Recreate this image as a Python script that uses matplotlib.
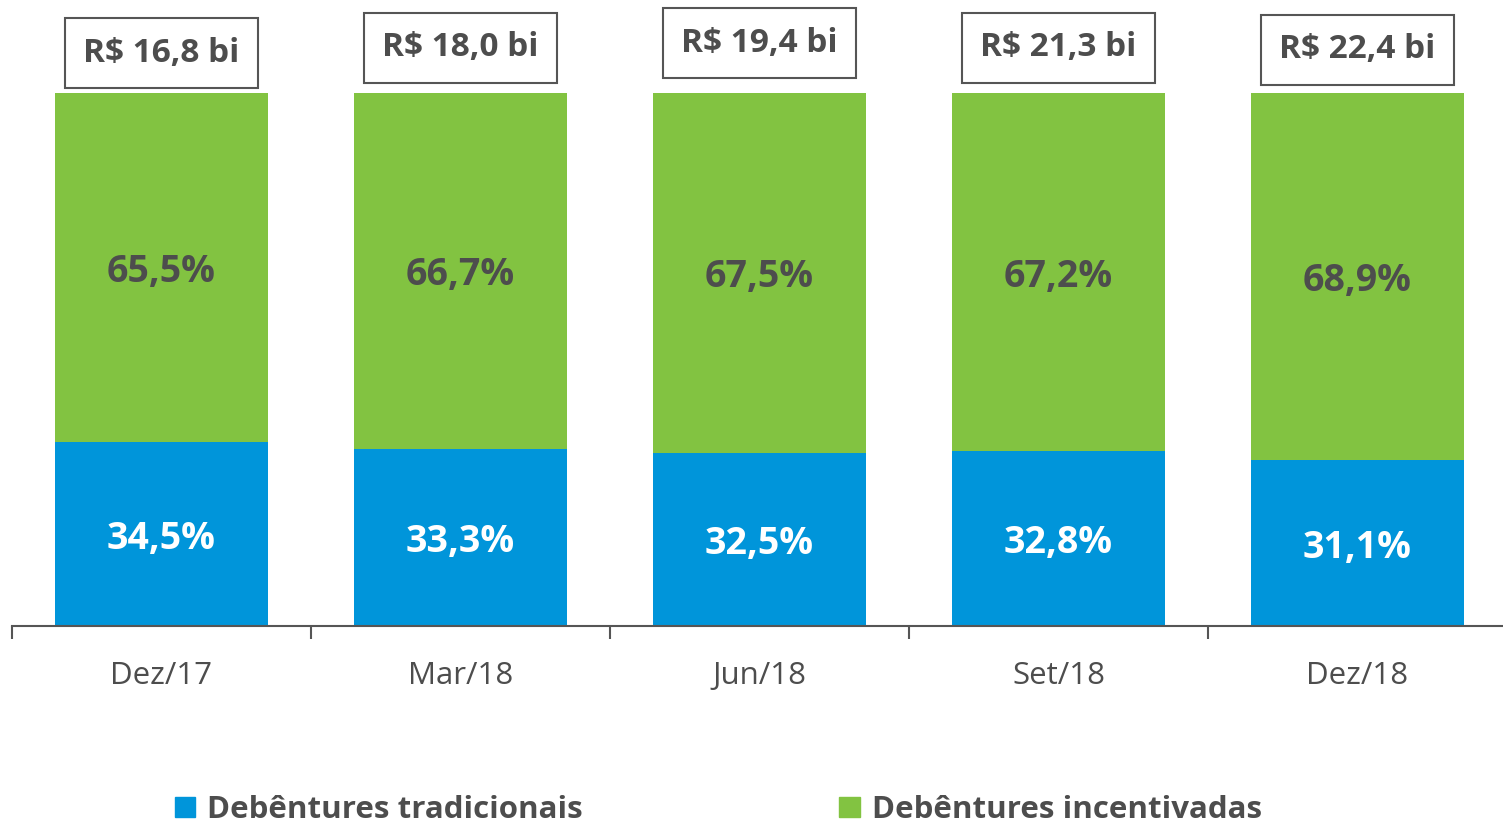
import matplotlib.pyplot as plt
from matplotlib.patches import Patch

plt.rcParams['font.family'] = ['Open Sans', 'DejaVu Sans']

categories = ["Dez/17", "Mar/18", "Jun/18", "Set/18", "Dez/18"]
tradicionais = [34.5, 33.3, 32.5, 32.8, 31.1]
incentivadas = [65.5, 66.7, 67.5, 67.2, 68.9]
totals = ["R$ 16,8 bi", "R$ 18,0 bi", "R$ 19,4 bi", "R$ 21,3 bi", "R$ 22,4 bi"]

BLUE = "#0095DA"
GREEN = "#82C341"
DARK = "#4D4D4D"

# small vertical shifts of the total boxes (pixels), as in the original slide
box_shift = [0, 5, 10, 5, 3]

fig = plt.figure(figsize=(15.03, 8.24), dpi=100)
ax = fig.add_axes([12 / 1503, 198 / 824, 1495 / 1503, 533 / 824])

x = range(len(categories))
ax.bar(x, tradicionais, width=0.713, color=BLUE, edgecolor="none")
ax.bar(x, incentivadas, width=0.713, bottom=tradicionais, color=GREEN, edgecolor="none")

for i in x:
    ax.text(i, tradicionais[i] / 2, f"{tradicionais[i]:.1f}%".replace(".", ","),
            ha="center", va="center_baseline", color="white", fontsize=27, fontweight="bold")
    ax.text(i, tradicionais[i] + incentivadas[i] / 2, f"{incentivadas[i]:.1f}%".replace(".", ","),
            ha="center", va="center_baseline", color=DARK, fontsize=27, fontweight="bold")
    ax.annotate(totals[i], xy=(i, 100), xytext=(0, (40 + box_shift[i]) * 0.72),
                textcoords="offset points", ha="center", va="center",
                fontsize=24, fontweight="bold", color=DARK, annotation_clip=False,
                bbox=dict(boxstyle="square,pad=0.55", fc="white", ec="#555555", lw=1.5))

ax.set_xlim(-0.5, len(categories) - 0.5)
ax.set_ylim(0, 100)
ax.set_yticks([])
for s in ["top", "right", "left"]:
    ax.spines[s].set_visible(False)
ax.spines["bottom"].set_color("#555555")
ax.spines["bottom"].set_linewidth(1.5)

ax.set_xticks([i - 0.5 for i in x], minor=False)
ax.set_xticklabels([])
ax.tick_params(axis="x", which="major", length=9, width=1.5, color="#555555")
ax.set_xticks(list(x), minor=True)
ax.set_xticklabels(categories, minor=True, fontsize=22.5, color=DARK)
ax.tick_params(axis="x", which="minor", length=0, pad=25)

handles = [Patch(color=BLUE, label="Debêntures tradicionais"),
           Patch(color=GREEN, label="Debêntures incentivadas")]
fig.legend(handles=handles, loc="center", bbox_to_anchor=(0.478, 0.017), ncol=2,
           frameon=False, handlelength=0.65, handleheight=0.65, handletextpad=0.4,
           columnspacing=8.2, prop={"size": 22.5, "weight": "bold"}, labelcolor=DARK)

fig.savefig("out.png", dpi=100)
